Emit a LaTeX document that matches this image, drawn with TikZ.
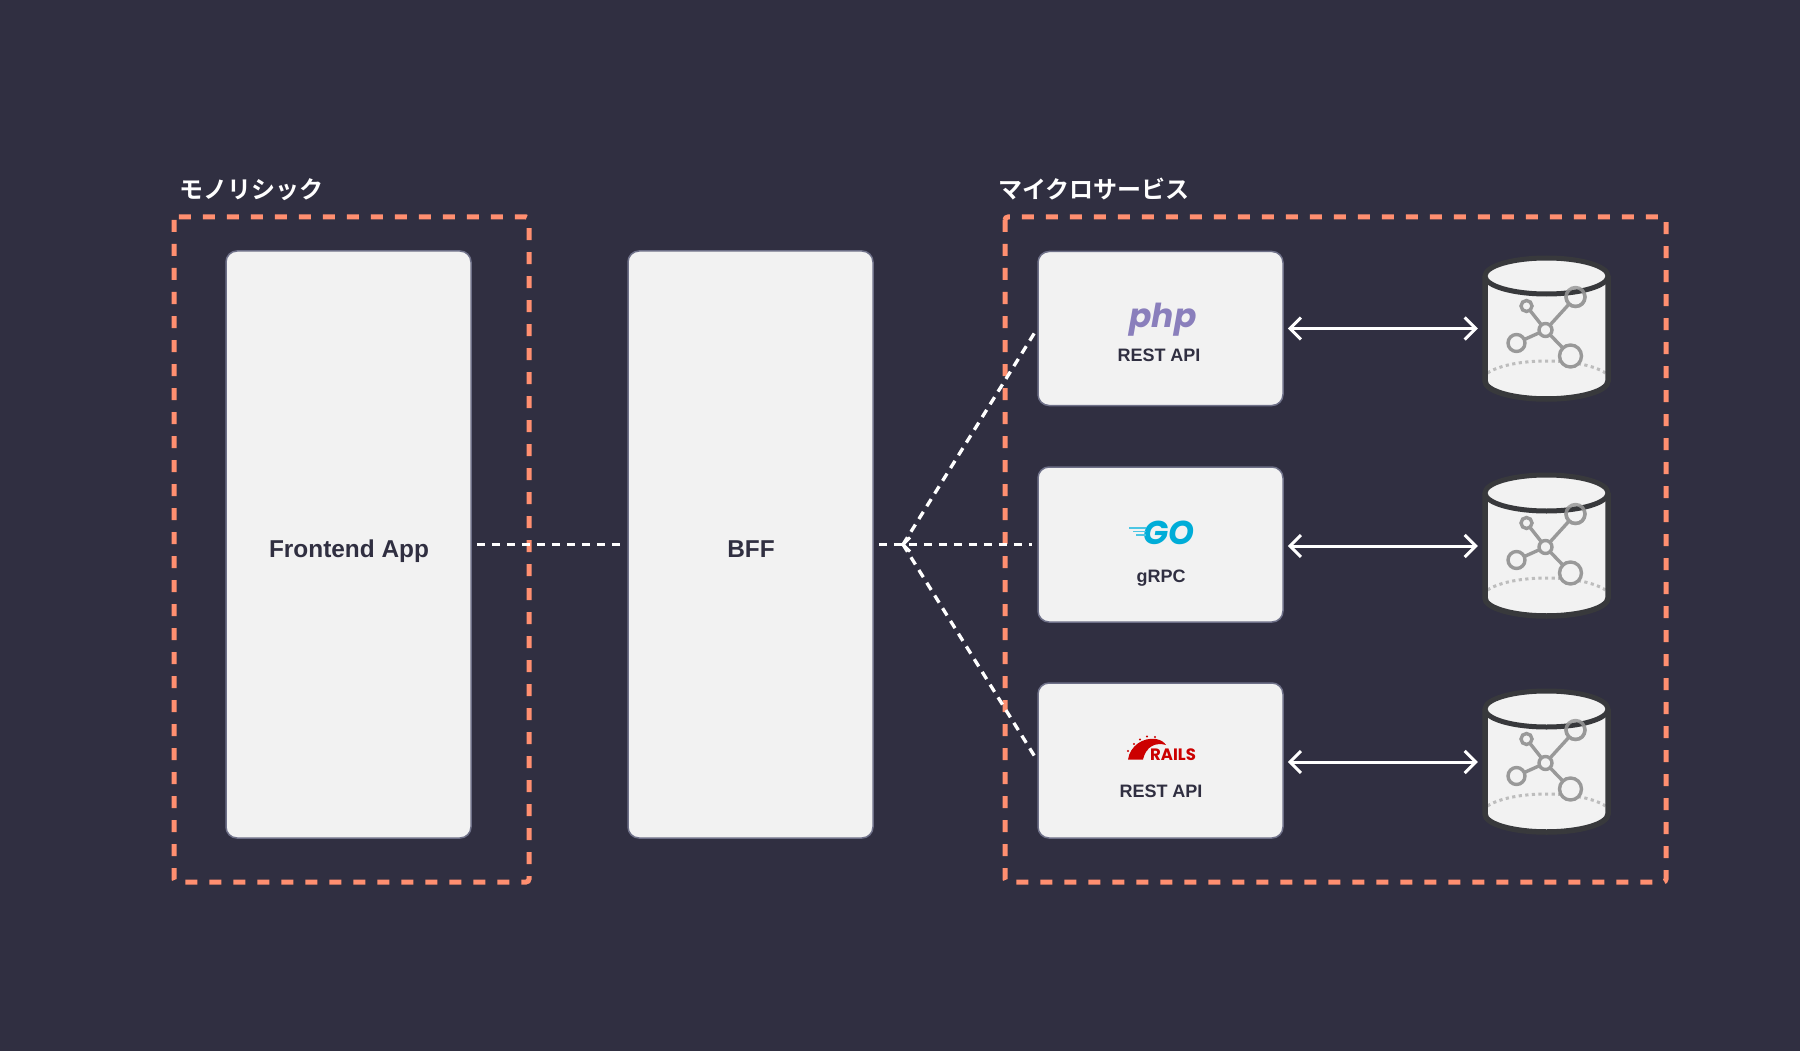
\documentclass[tikz,border=0pt]{standalone}
\usepackage{fontspec}
\setmainfont{Liberation Sans}
\newfontfamily\jpfont{Noto Sans CJK JP Bold}
\newfontfamily\lblfont{Liberation Sans}
\newfontfamily\phpfont{Poppins}
\newfontfamily\gofont{Poppins}
\newfontfamily\railfont{Poppins}
\usetikzlibrary{arrows.meta}
\definecolor{bgc}{HTML}{302F41}
\definecolor{boxc}{HTML}{F2F2F2}
\definecolor{edgec}{HTML}{6E7088}
\definecolor{salmon}{HTML}{FF8F70}
\definecolor{inkc}{HTML}{302F41}
\definecolor{cyledge}{HTML}{38393C}
\definecolor{icong}{HTML}{999999}
\definecolor{phpc}{HTML}{8A7FBC}
\definecolor{goc}{HTML}{00ADD8}
\definecolor{railc}{HTML}{CC0000}
\tikzset{
  x=1pt,y=-1pt,
  card/.style={draw=edgec,line width=1.5pt,fill=boxc,rounded corners=11pt,inner sep=0pt,minimum width=245pt,anchor=center},
  zone/.style={draw=salmon,line width=5pt,dash pattern=on 12pt off 12pt,rounded corners=3pt},
  wire/.style={draw=white,line width=3.3pt,dash pattern=on 8.5pt off 6.5pt,shorten >=5pt,shorten <=5pt},
  link/.style={draw=white,line width=3pt,{Straight Barb[length=11pt,width=22pt,line width=3pt]}-{Straight Barb[length=11pt,width=22pt,line width=3pt]},shorten >=7pt,shorten <=4pt},
  title/.style={text=white,font=\jpfont\fontsize{24}{24}\selectfont,anchor=west,inner sep=0pt},
  lbl/.style={text=inkc,font=\lblfont\bfseries\fontsize{18}{20}\selectfont,inner sep=0pt,anchor=base},
  big/.style={text=inkc,font=\lblfont\bfseries\fontsize{24.4}{26}\selectfont,inner sep=0pt,anchor=base},
  dbslot/.style={inner sep=0pt,minimum width=123pt,minimum height=136pt},
  gline/.style={draw=icong,line width=3.4pt},
  gnode/.style={draw=icong,line width=3.4pt,fill=boxc},
}
\newcommand{\dbicon}[1]{%
  \begin{scope}[shift={(#1)}]
    \fill[boxc] (-61.5,-52) -- (-61.5,53) arc[x radius=61.5,y radius=18,start angle=180,end angle=0] -- (61.5,-52) arc[x radius=61.5,y radius=18,start angle=0,end angle=360] -- cycle;
    \draw[icong!65,line width=3pt,dash pattern=on 3.2pt off 3.4pt] (-59,45) .. controls (-35,29) and (35,29) .. (59,45);
    \begin{scope}[yshift=-1pt]
    \draw[gline] (-1,1) -- (-20,-23) (-1,1) -- (-30,14) (-1,1) -- (29,-32) (-1,1) -- (24,27);
    \draw[gnode] (-1,1) circle[radius=6.5];
    \draw[gnode] (-20,-23) circle[radius=5.5];
    \draw[gnode] (-30,14) circle[radius=8.5];
    \draw[gnode] (29,-32) circle[radius=9.5];
    \draw[gnode] (24,27) circle[radius=11];
    \end{scope}
    \draw[cyledge,line width=5.5pt] (-61.5,-52) -- (-61.5,53) arc[x radius=61.5,y radius=18,start angle=180,end angle=0] -- (61.5,-52);
    \draw[cyledge,line width=5pt,fill=boxc] (0,-52) ellipse[x radius=61.5,y radius=18];
    \begin{scope}
      \clip (-2,-52) rectangle (40,-20);
      \draw[icong,line width=3.4pt,opacity=.85,yshift=-1pt] (29,-32) circle[radius=9.5];
    \end{scope}
  \end{scope}}
\begin{document}
\begin{tikzpicture}
\useasboundingbox (0,0) rectangle (1800,1051);
\fill[bgc] (0,0) rectangle (1800,1051);

\draw[zone] (174,217) rectangle (529,882);
\draw[zone] (1005,217) rectangle (1666,882);
\node[title] (monoT) at (179,190) {モノリシック};
\node[title] (microT) at (998,189) {マイクロサービス};

\node[card,minimum height=587pt] (front) at (348.5,544.5) {};
\node[card,minimum height=587pt] (bff) at (750.5,544.5) {};
\node[big] (frontT) at (349,557) {Frontend App};
\node[big] (bffT) at (751,557) {BFF};

\node[card,minimum height=154pt] (php) at (1160.5,328.5) {};
\node[card,minimum height=155pt] (go) at (1160.5,544.5) {};
\node[card,minimum height=155pt] (rails) at (1160.5,760.5) {};

\node[anchor=base,inner sep=0pt,text=phpc,font=\phpfont\bfseries\itshape\fontsize{33}{33}\selectfont] (phpL) at (1163,327.5) {php};
\node[lbl] (phpT) at (1159,361.5) {REST API};

\node[anchor=base,inner sep=0pt,text=goc,font=\gofont\bfseries\itshape\fontsize{33}{33}\selectfont] (goL) at (1169,544) {GO};
\draw[goc!70,line width=1.8pt] (1129,528) -- (1146,528) (1133,531.5) -- (1146,531.5) (1136,535) -- (1146,535);
\node[lbl] (goT) at (1161,582.5) {gRPC};

\node[anchor=base,inner sep=0pt,text=railc,font=\railfont\bfseries\fontsize{16.5}{16}\selectfont] (railL) at (1173,760) {RAILS};
\fill[railc] (1128,759.5) .. controls (1130,746) and (1143,737) .. (1156,739)
  .. controls (1161,740) and (1164,742) .. (1166,745)
  .. controls (1156,742) and (1146,746) .. (1143,759.5) -- cycle;
\foreach \p in {(1128,751),(1134,744),(1140,739.5),(1147,736.5),(1155,737)}{\fill[railc] \p circle[radius=1.1];}
\foreach \p in {(1147,750),(1152,745.5),(1158,743.5)}{\fill[railc] \p circle[radius=.7];}
\node[lbl] (railT) at (1161,797.5) {REST API};

\node[dbslot] (db1) at (1546.5,328) {};
\node[dbslot] (db2) at (1546.5,545) {};
\node[dbslot] (db3) at (1546.5,761) {};
\dbicon{db1.center}
\dbicon{db2.center}
\dbicon{db3.center}

\draw[wire] (front.east) -- (bff.west);
\coordinate (hub) at (903,544.5);
\draw[wire] (bff.east) -- (go.west);
\draw[wire,shorten <=0pt] (hub) -- (php.west);
\draw[wire,shorten <=0pt] (hub) -- (rails.west);
\draw[white,line width=3pt] (910,537.5) -- (903,544.5) -- (910,551.5);

\draw[link] (php.east) -- (php.east -| db1.west);
\draw[link] ([yshift=-1.5pt]go.east) -- ([yshift=-1.5pt]go.east -| db2.west);
\draw[link] ([yshift=-1.5pt]rails.east) -- ([yshift=-1.5pt]rails.east -| db3.west);
\end{tikzpicture}
\end{document}
